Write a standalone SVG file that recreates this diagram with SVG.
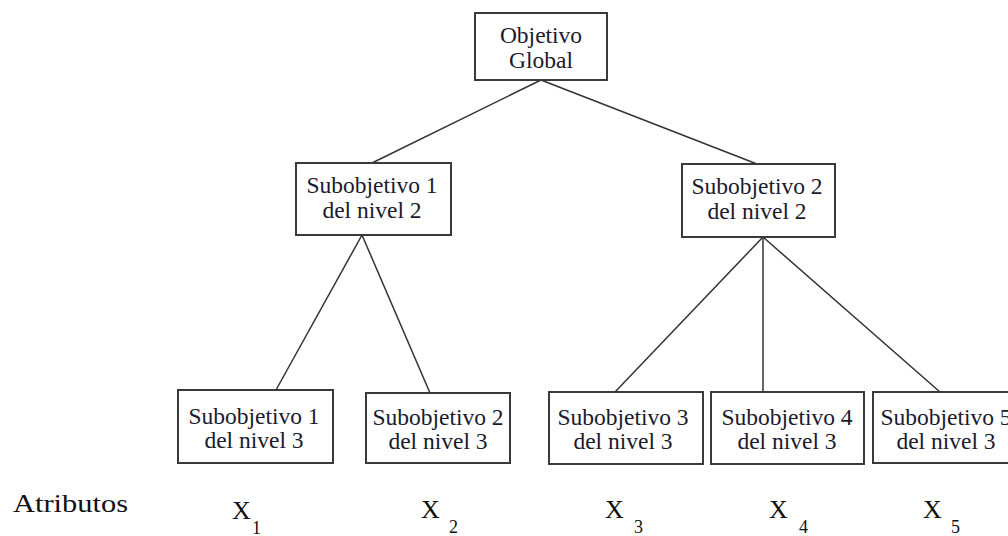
<svg xmlns="http://www.w3.org/2000/svg" width="1008" height="536" viewBox="0 0 1008 536">
<style>
.box{fill:#fff;stroke:#3a3a3a;stroke-width:2}
.t{font-family:"Liberation Serif","Times New Roman",serif;font-size:23.5px;fill:#1a1a2e;text-anchor:middle}
.c{stroke:#333;stroke-width:1.5;fill:none}
.a{font-family:"Liberation Serif","Times New Roman",serif;fill:#111}
</style>
<rect width="1008" height="536" fill="#fff"/>
<g id="connectors">
<line class="c" x1="541" y1="80" x2="372" y2="163"/>
<line class="c" x1="541" y1="80" x2="757" y2="164"/>
<line class="c" x1="362" y1="235" x2="276" y2="390"/>
<line class="c" x1="362" y1="235" x2="430" y2="393"/>
<line class="c" x1="763" y1="237" x2="615" y2="392"/>
<line class="c" x1="763" y1="237" x2="763" y2="392"/>
<line class="c" x1="763" y1="237" x2="940" y2="392"/>
</g>
<g id="objetivo-global">
<rect class="box" x="475" y="13" width="132" height="67"/>
<text class="t" x="541" y="43">Objetivo</text>
<text class="t" x="541" y="68">Global</text>
</g>
<g id="sub1-n2">
<rect class="box" x="296" y="163" width="155" height="72"/>
<text class="t" x="372" y="193">Subobjetivo 1</text>
<text class="t" x="372" y="218">del nivel 2</text>
</g>
<g id="sub2-n2">
<rect class="box" x="682" y="164" width="153" height="73"/>
<text class="t" x="757" y="194">Subobjetivo 2</text>
<text class="t" x="757" y="219">del nivel 2</text>
</g>
<g id="sub1-n3">
<rect class="box" x="178" y="390" width="155" height="73"/>
<text class="t" x="254" y="424">Subobjetivo 1</text>
<text class="t" x="254" y="448">del nivel 3</text>
</g>
<g id="sub2-n3">
<rect class="box" x="366" y="393" width="144" height="70"/>
<text class="t" x="438" y="425">Subobjetivo 2</text>
<text class="t" x="438" y="449">del nivel 3</text>
</g>
<g id="sub3-n3">
<rect class="box" x="549" y="392" width="154" height="72"/>
<text class="t" x="623" y="425">Subobjetivo 3</text>
<text class="t" x="623" y="449">del nivel 3</text>
</g>
<g id="sub4-n3">
<rect class="box" x="711" y="392" width="153" height="72"/>
<text class="t" x="787" y="425">Subobjetivo 4</text>
<text class="t" x="787" y="449">del nivel 3</text>
</g>
<g id="sub5-n3">
<rect class="box" x="873" y="392" width="155" height="71"/>
<text class="t" x="946" y="425">Subobjetivo 5</text>
<text class="t" x="946" y="449">del nivel 3</text>
</g>
<g id="atributos">
<text class="a" x="13" y="512" font-size="26" textLength="115" lengthAdjust="spacingAndGlyphs">Atributos</text>
<text class="a" x="232" y="519" font-size="26">X</text><text class="a" x="252" y="534" font-size="18">1</text>
<text class="a" x="421" y="518" font-size="26">X</text><text class="a" x="449" y="533" font-size="18">2</text>
<text class="a" x="605" y="518" font-size="26">X</text><text class="a" x="634" y="533" font-size="18">3</text>
<text class="a" x="769" y="518" font-size="26">X</text><text class="a" x="799" y="533" font-size="18">4</text>
<text class="a" x="923" y="518" font-size="26">X</text><text class="a" x="951" y="533" font-size="18">5</text>
</g>
</svg>
